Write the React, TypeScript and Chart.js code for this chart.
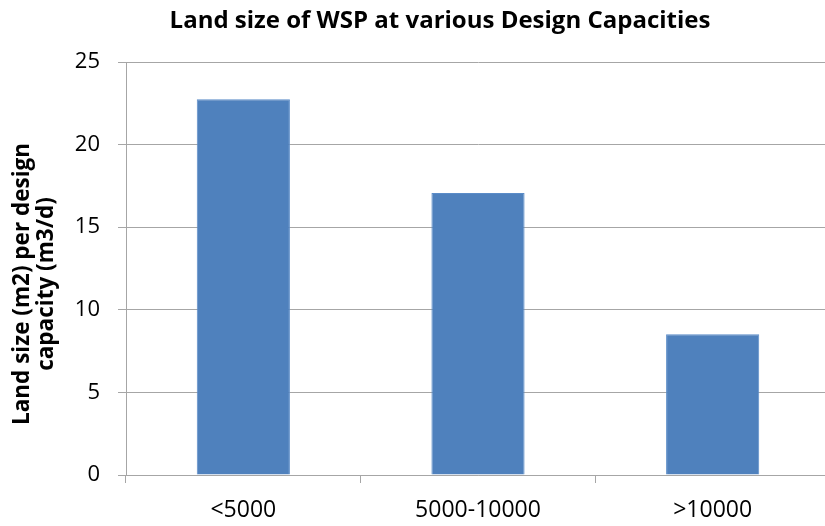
import React, { useEffect, useRef } from "react";
import { Chart, registerables } from "chart.js";

Chart.register(...registerables);

const categories = ["<5000", "5000-10000", ">10000"];
const landSize = [22.74, 17.07, 8.52];
const yTicks = [0, 5, 10, 15, 20, 25];
const chartTitle = "Land size of WSP at various Design Capacities";
const yTitleLines = ["Land size (m2) per design", "capacity (m3/d)"];

const FONT = "'Open Sans', Lato, sans-serif";
const GRID = "#a6a6a6";

const textPlugin = {
  id: "textCustom",
  afterDraw(chart: any) {
    const ctx = chart.ctx;
    ctx.save();
    ctx.fillStyle = "#000";
    ctx.textAlign = "center";
    ctx.textBaseline = "middle";
    // chart title
    ctx.font = `bold 24px ${FONT}`;
    ctx.fillText(chartTitle, 440, 21);
    // y-axis title
    ctx.font = `bold 22.5px ${FONT}`;
    const cy = 284;
    const xs = [23, 47];
    yTitleLines.forEach((line, i) => {
      ctx.save();
      ctx.translate(xs[i], cy);
      ctx.rotate(-Math.PI / 2);
      ctx.fillText(line, 0, 0);
      ctx.restore();
    });
    ctx.restore();
  },
};

export default function App() {
  const ref = useRef<HTMLCanvasElement | null>(null);
  useEffect(() => {
    if (!ref.current) return;
    const chart = new Chart(ref.current, {
      type: "bar",
      data: {
        labels: categories,
        datasets: [
          {
            data: landSize,
            backgroundColor: "#4F81BD",
            borderColor: "#5b8cc8",
            borderWidth: 1,
            categoryPercentage: 1,
            barPercentage: 0.397,
          },
        ],
      },
      plugins: [textPlugin],
      options: {
        responsive: false,
        animation: false,
        devicePixelRatio: 1,
        layout: { padding: { left: 0, right: 0, top: 62, bottom: 0 } },
        plugins: {
          legend: { display: false },
          tooltip: { enabled: false },
          title: { display: false },
        },
        scales: {
          x: {
            afterFit(scale: any) {
              scale.height = 51;
            },
            grid: {
              display: true,
              drawOnChartArea: false,
              drawTicks: true,
              tickLength: 8,
              color: GRID,
              offset: true,
            },
            border: { display: true, color: GRID, width: 1 },
            ticks: {
              color: "#000",
              font: { family: FONT, size: 23 },
              padding: 14,
              maxRotation: 0,
            },
          },
          y: {
            min: 0,
            max: 25,
            afterFit(scale: any) {
              scale.width = 126;
            },
            afterBuildTicks(scale: any) {
              scale.ticks = yTicks.map((v) => ({ value: v }));
            },
            grid: {
              display: true,
              drawOnChartArea: true,
              drawTicks: true,
              tickLength: 8,
              color: GRID,
            },
            border: { display: true, color: GRID, width: 1 },
            ticks: {
              color: "#000",
              font: { family: FONT, size: 22 },
              padding: 18,
            },
          },
        },
      },
    });
    return () => chart.destroy();
  }, []);
  return (
    <div
      style={{
        position: "fixed",
        left: 0,
        top: 0,
        width: 825,
        height: 526,
        overflow: "hidden",
        background: "#fff",
      }}
    >
      <canvas ref={ref} width={830} height={526} style={{ display: "block", width: 830, height: 526 }} />
    </div>
  );
}
